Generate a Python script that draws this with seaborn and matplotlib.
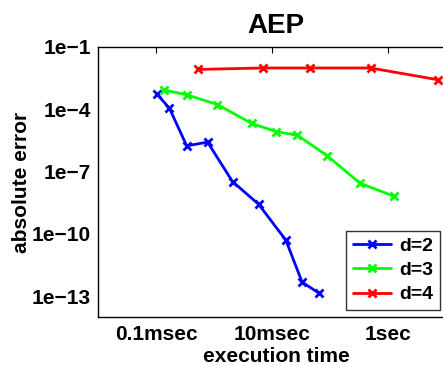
import numpy as np
import pandas as pd
import matplotlib
matplotlib.use("Agg")
import matplotlib.pyplot as plt
import seaborn as sns

# Données (log10 du temps en s, log10 de l'erreur)
t_d2 = [-3.99, -3.77, -3.47, -3.11, -2.68, -2.23, -1.76, -1.48, -1.19]
e_d2 = [-3.25, -3.94, -5.76, -5.58, -7.48, -8.57, -10.30, -12.32, -12.85]

t_d3 = [-3.86, -3.47, -2.94, -2.35, -1.93, -1.56, -1.05, -0.48, 0.11]
e_d3 = [-3.07, -3.30, -3.77, -4.68, -5.07, -5.25, -6.23, -7.56, -8.19]

t_d4 = [-3.28, -2.15, -1.34, -0.30, 0.87]
e_d4 = [-2.08, -2.01, -2.01, -2.01, -2.58]

series = ["d=2", "d=3", "d=4"]
couleurs = ["#0000ff", "#00ff00", "#ff0000"]

xticks = [1e-4, 1e-2, 1]
xtick_labels = ["0.1msec", "10msec", "1sec"]
yticks = [1e-13, 1e-10, 1e-7, 1e-4, 1e-1]
ytick_labels = ["1e\u221213", "1e\u221210", "1e\u22127", "1e\u22124", "1e\u22121"]

frames = []
for nom, t, e in zip(series, [t_d2, t_d3, t_d4], [e_d2, e_d3, e_d4]):
    frames.append(pd.DataFrame({
        "temps": 10 ** np.array(t),
        "erreur": 10 ** np.array(e),
        "serie": nom,
    }))
df = pd.concat(frames, ignore_index=True)

sns.set_style("white")
plt.rcParams["font.family"] = ["Liberation Sans", "DejaVu Sans"]
plt.rcParams["font.weight"] = "bold"
plt.rcParams["text.color"] = "black"
plt.rcParams["axes.labelcolor"] = "black"

fig = plt.figure(figsize=(4.43, 3.65), dpi=100)
ax = fig.add_axes([98 / 443, 48 / 365, 356 / 443, 270 / 365])

sns.lineplot(data=df, x="temps", y="erreur", hue="serie", hue_order=series,
             palette=couleurs, marker="x", markersize=6, markeredgewidth=2,
             linewidth=2, sort=False, estimator=None, ax=ax)

# marqueurs de la couleur de la ligne (pas de bord blanc)
for ln in ax.lines:
    ln.set_markeredgecolor(ln.get_color())
    ln.set_markerfacecolor(ln.get_color())

ax.set_xscale("log")
ax.set_yscale("log")
ax.set_xlim(1e-5, 10 ** 1.14)
ax.set_ylim(1e-14, 1e-1)

ax.set_xticks(xticks)
ax.set_xticklabels(xtick_labels)
ax.set_yticks(yticks)
ax.set_yticklabels(ytick_labels)
ax.minorticks_off()
ax.tick_params(direction="in", top=True, right=True, length=4, width=0.8,
               labelsize=15, colors="black")
for lab in ax.get_xticklabels() + ax.get_yticklabels():
    lab.set_fontweight("bold")
ax.tick_params(axis="x", pad=6)
ax.tick_params(axis="y", pad=5)

for s in ax.spines.values():
    s.set_color("black")
    s.set_linewidth(1.0)

ax.set_title("AEP", fontsize=20, fontweight="bold", pad=10, color="black")
ax.set_xlabel("execution time", fontsize=15, fontweight="bold", labelpad=2)
ax.set_ylabel("absolute error", fontsize=15, fontweight="bold", labelpad=1)

leg = ax.legend(loc="lower right", bbox_to_anchor=(342 / 356, 6.7 / 270),
                frameon=True, fancybox=False, fontsize=14, handlelength=2.0,
                borderpad=0.35, labelspacing=0.34, handletextpad=0.4,
                borderaxespad=0)
leg.get_frame().set_edgecolor("black")
leg.get_frame().set_linewidth(1.0)
for txt in leg.get_texts():
    txt.set_fontweight("bold")
for h in leg.legend_handles:
    h.set_markeredgecolor(h.get_color())

fig.savefig("out.png", dpi=100)
